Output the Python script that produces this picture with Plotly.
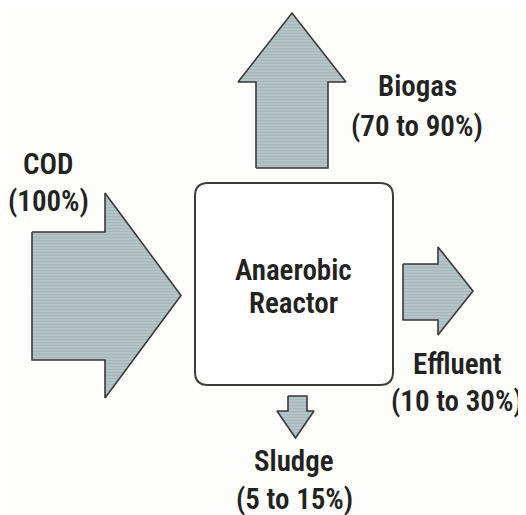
import plotly.graph_objects as go

# ---- data ----
flows = ["COD", "Biogas", "Effluent", "Sludge"]
shares = ["(100%)", "(70 to 90%)", "(10 to 30%)", "(5 to 15%)"]
reactor_label = ["Anaerobic", "Reactor"]

W, H = 526, 515
PAD = 8  # default page margin of the html body

def arrow_right(sx0, sy0, sy1, hx, hy0, hy1, tipx):
    tipy = (hy0 + hy1) / 2
    xs = [sx0, hx, hx, tipx, hx, hx, sx0, sx0]
    ys = [sy0, sy0, hy0, tipy, hy1, sy1, sy1, sy0]
    return xs, ys

def arrow_up(sx0, sx1, sy1, hy, hx0, hx1, tipy):
    tipx = (hx0 + hx1) / 2
    xs = [sx0, sx0, hx0, tipx, hx1, sx1, sx1, sx0]
    ys = [sy1, hy, hy, tipy, hy, hy, sy1, sy1]
    return xs, ys

def arrow_down(sx0, sx1, sy0, hy, hx0, hx1, tipy):
    tipx = (hx0 + hx1) / 2
    xs = [sx0, sx0, hx0, tipx, hx1, sx1, sx1, sx0]
    ys = [sy0, hy, hy, tipy, hy, hy, sy0, sy0]
    return xs, ys

arrows = {
    "COD": arrow_right(32, 232, 360, 105, 193, 398, 181),
    "Biogas": arrow_up(256, 328, 168, 82, 238, 346, 13),
    "Effluent": arrow_right(403, 264, 320, 438, 247, 335, 473),
    "Sludge": arrow_down(288, 307, 396, 411, 277, 314, 438),
}

label_pos = {
    "COD": (48, 164, 201),
    "Biogas": (417, 86, 126),
    "Effluent": (457, 364, 401),
    "Sludge": (294, 461, 499),
}

font_family = "Roboto Condensed, Open Sans Condensed, DejaVu Sans, sans-serif"
txt_color = "#222222"

fig = go.Figure()
for name in flows:
    xs, ys = arrows[name]
    fig.add_trace(go.Scatter(
        x=xs, y=ys, mode="lines", fill="toself",
        fillcolor="#b0bfc1",
        fillpattern=dict(shape="-", fgcolor="#97a7aa", bgcolor="#b4c3c5", size=3, solidity=0.3),
        line=dict(color="#3a3a3a", width=1.6),
        hoverinfo="skip", showlegend=False,
    ))

# reactor box with rounded corners
x0, y0, x1, y1, r = 195, 183, 393, 385, 13
path = (f"M {x0+r},{y0} L {x1-r},{y0} Q {x1},{y0} {x1},{y0+r} "
        f"L {x1},{y1-r} Q {x1},{y1} {x1-r},{y1} L {x0+r},{y1} "
        f"Q {x0},{y1} {x0},{y1-r} L {x0},{y0+r} Q {x0},{y0} {x0+r},{y0} Z")
fig.add_shape(type="path", path=path, xref="x", yref="y",
              line=dict(color="#3c3c3c", width=2), fillcolor="white")

fnt = dict(size=29, color=txt_color, family=font_family, weight=600)
annotations = []
for name, share in zip(flows, shares):
    cx, ya, yb = label_pos[name]
    annotations.append(dict(x=cx, y=ya, text=name, showarrow=False,
                            xref="x", yref="y", font=fnt))
    annotations.append(dict(x=cx, y=yb, text=share, showarrow=False,
                            xref="x", yref="y", font=fnt))
for i, line in enumerate(reactor_label):
    annotations.append(dict(x=293, y=270 + 33 * i, text=line, showarrow=False,
                            xref="x", yref="y", font=fnt))

fig.update_layout(
    width=W - PAD, height=H - PAD,
    margin=dict(l=0, r=0, t=0, b=0),
    paper_bgcolor="#fdfdfc", plot_bgcolor="#fdfdfc",
    xaxis=dict(range=[PAD, W], visible=False, fixedrange=True),
    yaxis=dict(range=[H, PAD], visible=False, fixedrange=True),
    annotations=annotations,
)
fig.write_html("out.html")
